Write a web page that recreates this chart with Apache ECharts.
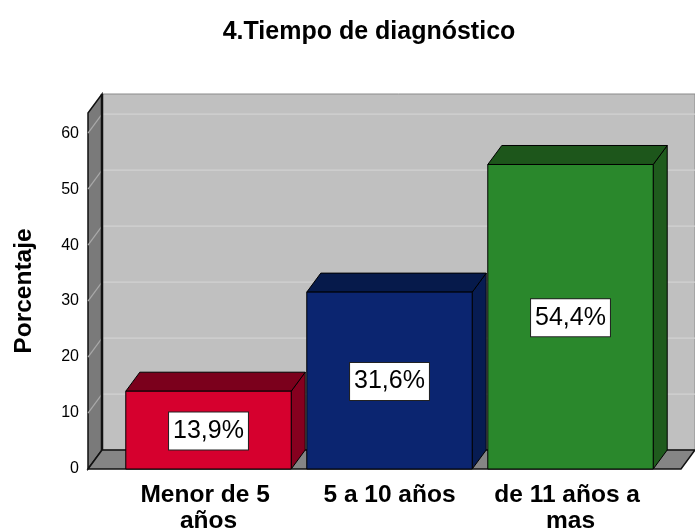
<!DOCTYPE html>
<html lang="es">

<head>
  <meta charset="UTF-8">
  <title>Tiempo de diagnostico</title>
  <style>
    body,
    html {
      margin: 0;
      padding: 0;
      background: #fff;
    }

    #chart {
      width: 695px;
      height: 530px;
    }
  </style>
</head>

<body>
  <div id="chart"></div>
  <script src="https://cdn.jsdelivr.net/npm/echarts@6/dist/echarts.min.js"></script>
  <script>
    var categories = ['Menor de 5 años', '5 a 10 años', 'de 11 años a mas'];
    var percents = [13.9, 31.6, 54.4];
    var yTicks = [0, 10, 20, 30, 40, 50, 60];

    // front / top / side colours of each 3d bar
    var barColors = [
      ['#d6002e', '#7b001c', '#86001f'],
      ['#0b2570', '#061a4b', '#071c52'],
      ['#2a882c', '#1d561b', '#1f5b1d']
    ];

    // depth of the 3d box in pixels
    var DX = 14, DY = -19;
    var FONT = 'Liberation Sans, Arial, sans-serif';

    var myChart = echarts.init(document.getElementById('chart'));

    function renderFrame(params, api) {
      var cs = params.coordSys;
      var x0 = cs.x - 30, x1 = cs.x + cs.width + 20;
      var yTop = cs.y, yBot = cs.y + cs.height;
      var children = [];
      children.push({
        type: 'rect',
        shape: { x: x0 + DX, y: yTop + DY, width: x1 - x0, height: yBot - yTop },
        style: { fill: '#c0c0c0', stroke: '#8a8a8a', lineWidth: 1 }
      });
      children.push({
        type: 'polygon',
        shape: { points: [[x0, yTop], [x0 + DX, yTop + DY], [x0 + DX, yBot + DY], [x0, yBot]] },
        style: { fill: '#7a7a7a', stroke: '#111', lineWidth: 1.5 }
      });
      children.push({
        type: 'polygon',
        shape: { points: [[x0, yBot], [x0 + DX, yBot + DY], [x1 + DX, yBot + DY], [x1, yBot]] },
        style: { fill: '#858585', stroke: '#111', lineWidth: 1.5 }
      });
      yTicks.forEach(function (v) {
        if (v === 0) return;
        var y = api.coord([0, v])[1];
        children.push({
          type: 'line',
          shape: { x1: x0, y1: y, x2: x0 + DX, y2: y + DY },
          style: { stroke: '#a9a9a9', lineWidth: 1.2 }
        });
        children.push({
          type: 'line',
          shape: { x1: x0 + DX, y1: y + DY, x2: x1 + DX, y2: y + DY },
          style: { stroke: '#d2d2d2', lineWidth: 1.2 }
        });
      });
      children.push({
        type: 'line',
        shape: { x1: x0 + DX, y1: yTop + DY, x2: x0 + DX, y2: yBot + DY },
        style: { stroke: '#111', lineWidth: 2.5 }
      });
      return { type: 'group', children: children };
    }

    function renderBar(params, api) {
      var idx = api.value(0);
      var val = api.value(1);
      var base = api.coord([idx, 0]);
      var top = api.coord([idx, val]);
      var w = api.size([1, 0])[0] * 0.914;
      var xl = base[0] - w / 2, xr = base[0] + w / 2;
      var yt = top[1], yb = base[1];
      var c = barColors[params.dataIndex];
      var label = val.toFixed(1).replace('.', ',') + '%';
      return {
        type: 'group',
        children: [
          {
            type: 'polygon',
            shape: { points: [[xr, yt], [xr + DX, yt + DY], [xr + DX, yb + DY], [xr, yb]] },
            style: { fill: c[2], stroke: '#000', lineWidth: 1 }
          },
          {
            type: 'polygon',
            shape: { points: [[xl, yt], [xl + DX, yt + DY], [xr + DX, yt + DY], [xr, yt]] },
            style: { fill: c[1], stroke: '#000', lineWidth: 1 }
          },
          {
            type: 'rect',
            shape: { x: xl, y: yt, width: w, height: yb - yt },
            style: { fill: c[0], stroke: '#000', lineWidth: 1 }
          },
          {
            type: 'text',
            x: base[0],
            y: (yt + yb) / 2 + 1,
            style: {
              text: label,
              fontFamily: FONT,
              fontSize: 25,
              fill: '#000',
              align: 'center',
              verticalAlign: 'middle',
              backgroundColor: '#fff',
              borderColor: '#222',
              borderWidth: 1,
              padding: [6, 4, 6, 4]
            }
          }
        ]
      };
    }

    var option = {
      animation: false,
      title: {
        text: '4.Tiempo de diagnóstico',
        left: 364,
        top: 15,
        textAlign: 'center',
        textStyle: {
          fontFamily: FONT,
          fontSize: 25,
          fontWeight: 'bold',
          color: '#000'
        }
      },
      grid: {
        left: 118,
        right: 34,
        top: 113,
        bottom: 61,
        outerBoundsMode: 'none'
      },
      xAxis: {
        type: 'category',
        data: categories,
        axisLine: { show: false },
        axisTick: { show: false },
        axisLabel: {
          interval: 0,
          margin: 13,
          width: 170,
          overflow: 'break',
          lineHeight: 26,
          fontFamily: FONT,
          fontSize: 24.5,
          fontWeight: 'bold',
          color: '#000'
        }
      },
      yAxis: {
        type: 'value',
        min: 0,
        max: 63.6,
        interval: 10,
        name: 'Porcentaje',
        nameLocation: 'middle',
        nameGap: 81,
        nameTextStyle: {
          fontFamily: FONT,
          fontSize: 24.5,
          fontWeight: 'bold',
          color: '#000'
        },
        axisLine: { show: false },
        axisTick: { show: false },
        splitLine: { show: false },
        axisLabel: {
          margin: 39,
          showMaxLabel: false,
          fontFamily: FONT,
          fontSize: 16,
          color: '#000'
        }
      },
      series: [
        {
          type: 'custom',
          renderItem: renderFrame,
          data: [[0, 0]],
          silent: true,
          z: 1
        },
        {
          type: 'custom',
          renderItem: renderBar,
          data: percents.map(function (v, i) { return [i, v]; }),
          z: 2
        }
      ]
    };
    myChart.setOption(option);
  </script>
</body>

</html>
